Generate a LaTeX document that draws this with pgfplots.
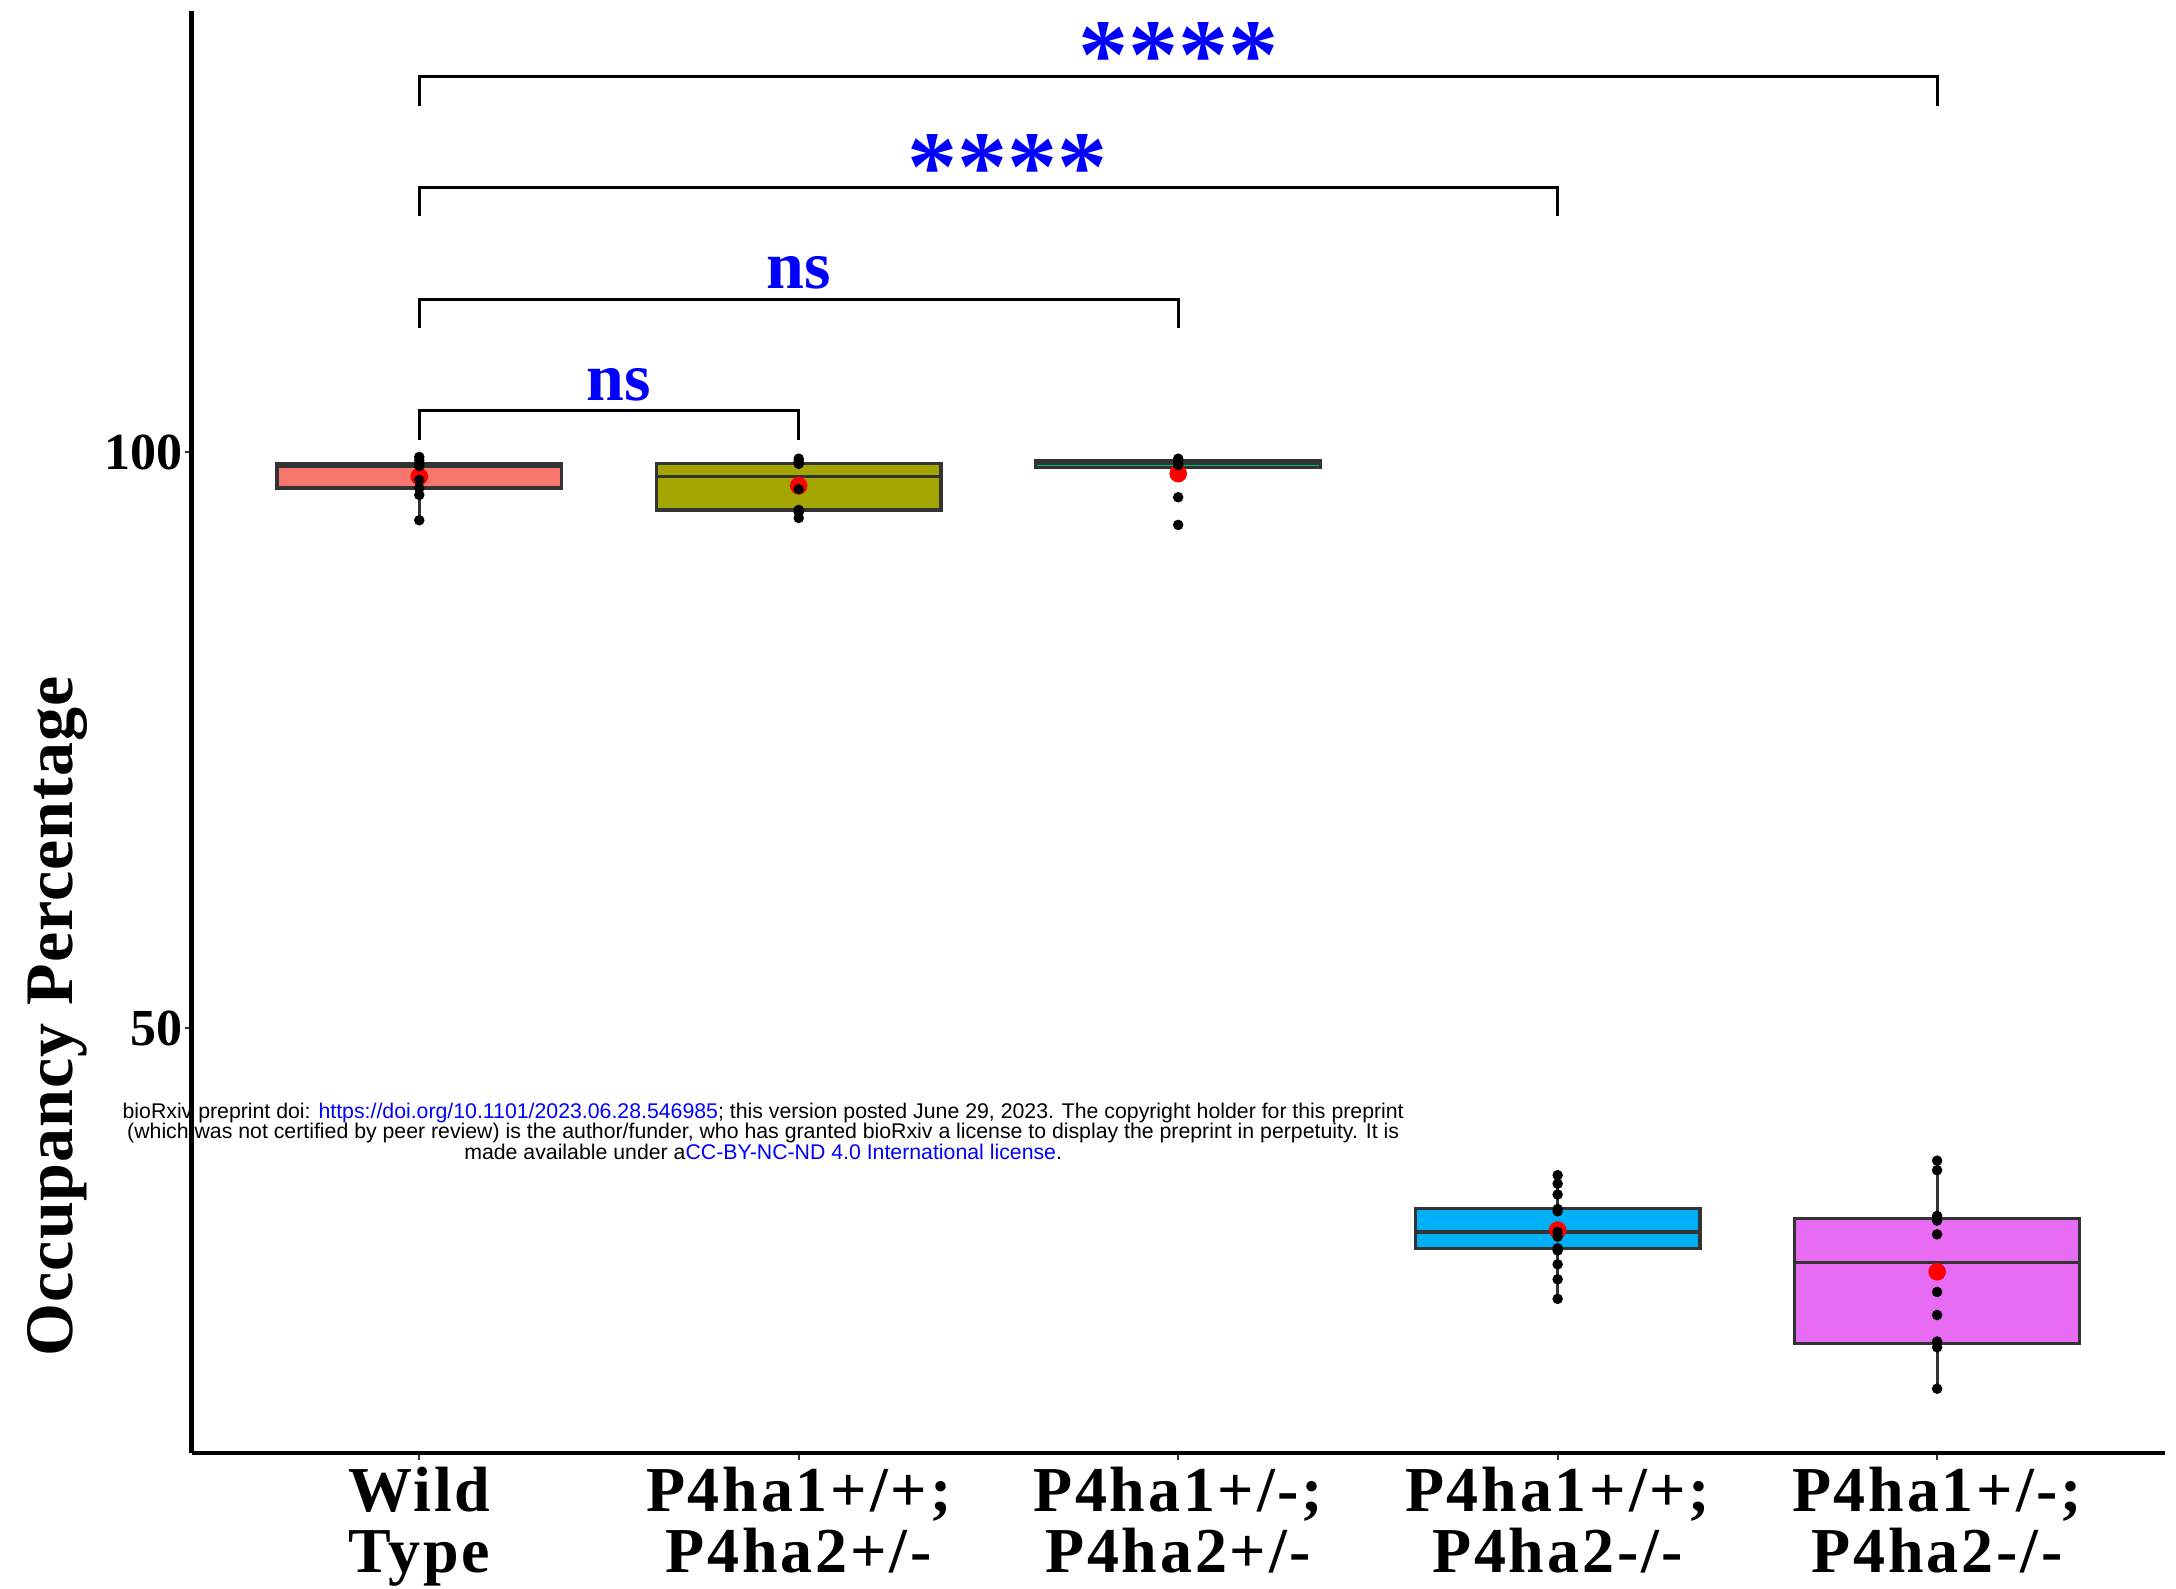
\documentclass[border=0pt]{standalone}
\usepackage{pgfplots}
\pgfplotsset{compat=1.18}
\usepgfplotslibrary{statistics}
\usepackage{fontspec}
\setmainfont{Liberation Serif}
\newfontfamily\wmfont{Liberation Sans}
\newfontfamily\spacedserif[LetterSpace=4.4]{Liberation Serif}
\newfontfamily\labelserif[LetterSpace=1.5]{Liberation Serif}

\definecolor{cWT}{HTML}{F8766D}
\definecolor{cHetA}{HTML}{A3A500}
\definecolor{cHetB}{HTML}{00BF7D}
\definecolor{cKOA}{HTML}{00B0F6}
\definecolor{cKOB}{HTML}{E76BF3}
\definecolor{boxline}{HTML}{333333}
\definecolor{linkblue}{HTML}{0000FF}

\begin{document}
\begin{tikzpicture}
\path[use as bounding box] (-47.9pt,-33.7pt) rectangle (496.1pt,363.3pt);

% preprint notice, set beneath the axis lines
\node[font=\wmfont\fontsize{5.32}{5.2}\selectfont, align=center, inner sep=0pt] at (142.9pt,80.5pt)
 {bioRxiv preprint doi: \textcolor{linkblue}{https://doi.org/10.1101/2023.06.28.546985}; this version posted June 29, 2023. The copyright holder for this preprint\\
  (which was not certified by peer review) is the author/funder, who has granted bioRxiv a license to display the preprint in perpetuity. It is\\
  made available under a\textcolor{linkblue}{CC-BY-NC-ND 4.0 International license}.};

\begin{axis}[
  scale only axis, width=493.3pt, height=360.5pt,
  xmin=0.4, xmax=5.6, ymin=13.1, ymax=138.3,
  axis x line*=bottom, axis y line*=left,
  axis line style={line width=1.1pt, black, -},
  xtick={1,2,3,4,5},
  xticklabels={{Wild\\Type},{P4ha1+/+;\\P4ha2+/-},{P4ha1+/-;\\P4ha2+/-},{P4ha1+/+;\\P4ha2-/-},{P4ha1+/-;\\P4ha2-/-}},
  ytick={50,100},
  tick align=outside, major tick length=1.6pt,
  tick style={line width=0.5pt, boxline},
  xticklabel style={font=\spacedserif\fontsize{16}{15.2}\selectfont\bfseries, align=center, inner sep=0pt, yshift=-1.6pt},
  yticklabel style={font=\fontsize{13}{13}\selectfont\bfseries, inner sep=0pt, xshift=-0.4pt},
  /pgf/number format/assume math mode=true,
  ylabel={Occupancy Percentage},
  ylabel style={font=\labelserif\fontsize{17}{17}\selectfont\bfseries, at={(axis description cs:-0.0680,0.303)}, anchor=center},
  clip=false,
  boxplot/draw direction=y,
  boxplot/box extend=0.75,
  boxplot/whisker extend=0,
]

% boxes (quartiles and whisker ends per genotype)
\addplot[boxplot prepared={draw position=1, lower whisker=94.1, lower quartile=96.9, median=98.8, upper quartile=99.0, upper whisker=99.6}, draw=boxline, fill=cWT, line width=0.8pt] coordinates {};
\addplot[boxplot prepared={draw position=2, lower whisker=94.3, lower quartile=95.0, median=97.9, upper quartile=99.0, upper whisker=99.45}, draw=boxline, fill=cHetA, line width=0.8pt] coordinates {};
\addplot[boxplot prepared={draw position=3, lower whisker=98.6, lower quartile=98.7, median=99.0, upper quartile=99.3, upper whisker=99.45}, draw=boxline, fill=cHetB, line width=0.8pt] coordinates {};
\addplot[boxplot prepared={draw position=4, lower whisker=26.5, lower quartile=30.9, median=32.3, upper quartile=34.35, upper whisker=37.24}, draw=boxline, fill=cKOA, line width=0.8pt] coordinates {};
\addplot[boxplot prepared={draw position=5, lower whisker=18.7, lower quartile=22.65, median=29.65, upper quartile=33.5, upper whisker=38.5}, draw=boxline, fill=cKOB, line width=0.8pt] coordinates {};

% group means
\addplot[only marks, mark=*, mark size=2.0pt, red] coordinates {
  (1,97.9) (2,97.1) (3,98.15) (4,32.47) (5,28.85)};

% individual animals
\addplot[only marks, mark=*, mark size=1.1pt, black] coordinates {
  (1,99.6) (1,99.3) (1,99.0) (1,98.8) (1,97.6) (1,96.9) (1,96.3) (1,94.1)
  (2,99.45) (2,99.2) (2,99.0) (2,96.8) (2,95.0) (2,94.8) (2,94.3)
  (3,99.45) (3,99.3) (3,99.1) (3,98.9) (3,96.1) (3,93.7)
  (4,37.24) (4,36.5) (4,35.56) (4,34.3) (4,34.1) (4,32.3) (4,31.9) (4,30.9) (4,30.7) (4,29.5) (4,28.2) (4,26.5)
  (5,38.5) (5,37.67) (5,33.7) (5,33.3) (5,32.1) (5,27.1) (5,25.1) (5,22.8) (5,22.3) (5,18.7)};

% significance brackets
\addplot[black, line width=0.8pt] coordinates {(1,101.1) (1,103.6) (2,103.6) (2,101.1)};
\addplot[black, line width=0.8pt] coordinates {(1,110.8) (1,113.3) (3,113.3) (3,110.8)};
\addplot[black, line width=0.8pt] coordinates {(1,120.5) (1,123.0) (4,123.0) (4,120.5)};
\addplot[black, line width=0.8pt] coordinates {(1,130.1) (1,132.6) (5,132.6) (5,130.1)};

\node[text=blue, font=\fontsize{17}{17}\selectfont\bfseries, anchor=base, inner sep=0pt] at (axis cs:1.525,104.5) {ns};
\node[text=blue, font=\fontsize{17}{17}\selectfont\bfseries, anchor=base, inner sep=0pt] at (axis cs:2,114.2) {ns};
\node[text=blue, font=\fontsize{25}{25}\selectfont\bfseries, anchor=base, inner sep=0pt] at (axis cs:2.55,121.9) {****};
\node[text=blue, font=\fontsize{25}{25}\selectfont\bfseries, anchor=base, inner sep=0pt] at (axis cs:3,131.6) {****};
\end{axis}
\end{tikzpicture}
\end{document}
